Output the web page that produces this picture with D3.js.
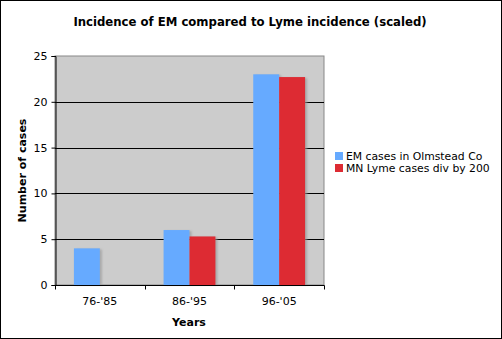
<!DOCTYPE html>
<html>
<head>
<meta charset="utf-8">
<script src="https://cdn.jsdelivr.net/npm/d3@7"></script>
<style>
  html, body { margin: 0; padding: 0; background: #fff; }
  svg { display: block; }
  text { font-family: Verdana, "DejaVu Sans", sans-serif; fill: #000; }
</style>
</head>
<body>
<svg id="chart" width="502" height="339"></svg>
<script>
// Period buckets and the two series per bucket
const periods = ["76-'85", "86-'95", "96-'05"];
const seriesNames = ["EM cases in Olmstead Co", "MN Lyme cases div by 200"];
const emCases = [4, 6, 23];
const lymeScaled = [null, 5.3, 22.7];
const yTicks = [0, 5, 10, 15, 20, 25];
const colors = ["#66aaff", "#dd2b33"];

const svg = d3.select("#chart");
const W = 502, H = 339;
const plot = { left: 55, top: 56, right: 324, bottom: 285 };

// outer frame
svg.append("rect").attr("x", 0.5).attr("y", 0.5).attr("width", W - 1).attr("height", H - 1)
  .attr("fill", "#fff").attr("stroke", "#000").attr("stroke-width", 1);

const defs = svg.append("defs");
defs.append("filter").attr("id", "soft").attr("x", "-20%").attr("y", "-20%").attr("width", "140%").attr("height", "140%")
  .append("feGaussianBlur").attr("stdDeviation", 0.8);

const x = d3.scaleBand().domain(periods).range([plot.left, plot.right]).paddingInner(0).paddingOuter(0);
const y = d3.scaleLinear().domain([0, 25]).range([plot.bottom, plot.top]);
const inner = d3.scaleBand().domain([0, 1]).range([0, x.bandwidth()]).paddingInner(0).paddingOuter(0.73);

// plot background
svg.append("rect").attr("x", plot.left).attr("y", plot.top)
  .attr("width", plot.right - plot.left).attr("height", plot.bottom - plot.top)
  .attr("fill", "#cccccc").attr("stroke", "#888").attr("stroke-width", 1);

// gridlines
svg.append("g").selectAll("line").data(yTicks.filter(t => t > 0 && t < 25)).join("line")
  .attr("x1", plot.left).attr("x2", plot.right)
  .attr("y1", d => Math.round(y(d)) + 0.5).attr("y2", d => Math.round(y(d)) + 0.5)
  .attr("stroke", "#000").attr("stroke-width", 1);

// bars with a soft drop shadow
const rows = [];
periods.forEach((p, i) => {
  [emCases[i], lymeScaled[i]].forEach((v, s) => {
    if (v != null) rows.push({ p, s, v });
  });
});
const barG = svg.append("g");
barG.selectAll("rect.shadow").data(rows).join("rect").attr("class", "shadow")
  .attr("x", d => x(d.p) + inner(d.s) + 2)
  .attr("y", d => y(d.v) + 1)
  .attr("width", inner.bandwidth())
  .attr("height", d => y(0) - y(d.v) - 1)
  .attr("fill", "#999").attr("opacity", 0.7).attr("filter", "url(#soft)");
barG.selectAll("rect.bar").data(rows).join("rect").attr("class", "bar")
  .attr("x", d => x(d.p) + inner(d.s))
  .attr("y", d => y(d.v))
  .attr("width", inner.bandwidth())
  .attr("height", d => y(0) - y(d.v))
  .attr("fill", d => colors[d.s]);

// y axis
const yAxis = d3.axisLeft(y).tickValues(yTicks).tickSize(4).tickPadding(4).tickFormat(d3.format("d"));
const gy = svg.append("g").attr("transform", `translate(${plot.left + 0.5},0)`).call(yAxis);
gy.select(".domain").attr("stroke", "#000");
gy.selectAll(".tick line").attr("stroke", "#000");
gy.selectAll(".tick text").style("font-family", 'Verdana, "DejaVu Sans", sans-serif').style("font-size", "11px").attr("fill", "#000");

// x axis with ticks at band boundaries
const gx = svg.append("g").attr("transform", `translate(0,${plot.bottom + 0.5})`);
gx.append("line").attr("x1", plot.left).attr("x2", plot.right + 0.5).attr("stroke", "#000");
const bounds = periods.map(p => x(p)).concat([plot.right]);
gx.selectAll("line.tk").data(bounds).join("line").attr("class", "tk")
  .attr("x1", d => Math.round(d) + 0.5).attr("x2", d => Math.round(d) + 0.5)
  .attr("y1", 0).attr("y2", 4).attr("stroke", "#000");
gx.selectAll("text").data(periods).join("text")
  .attr("x", d => x(d) + x.bandwidth() / 2).attr("y", 19)
  .attr("text-anchor", "middle").style("font-size", "11px").text(d => d);

// titles
svg.append("text").attr("x", 250).attr("y", 26).attr("text-anchor", "middle")
  .style("font-size", "11.7px").style("font-weight", "bold")
  .text("Incidence of EM compared to Lyme incidence (scaled)");
svg.append("text").attr("x", 189).attr("y", 326).attr("text-anchor", "middle")
  .style("font-size", "11px").style("font-weight", "bold").text("Years");
svg.append("text").attr("transform", `translate(26,${(plot.top + plot.bottom) / 2}) rotate(-90)`)
  .attr("text-anchor", "middle").style("font-size", "11px").style("font-weight", "bold")
  .text("Number of cases");

// legend
const lg = svg.append("g").attr("transform", "translate(335,152)");
const items = lg.selectAll("g").data(seriesNames).join("g")
  .attr("transform", (d, i) => `translate(0,${i * 12})`);
items.append("rect").attr("width", 8).attr("height", 8).attr("fill", (d, i) => colors[i]);
items.append("text").attr("x", 11).attr("y", 8).style("font-size", "10.8px").text(d => d);
</script>
</body>
</html>
